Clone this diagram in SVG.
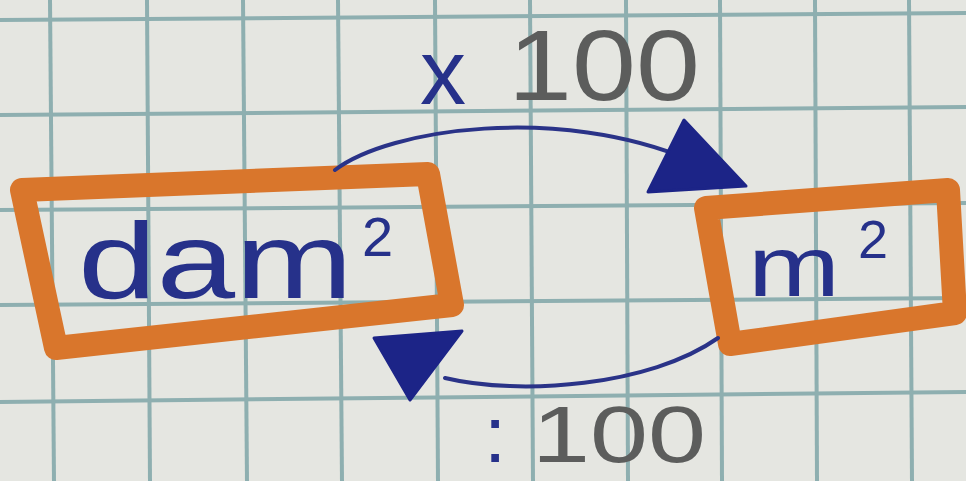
<svg xmlns="http://www.w3.org/2000/svg" width="966" height="481" viewBox="0 0 966 481">
<style>
.grid line{stroke:#8eafb0;stroke-width:4}
.box{fill:none;stroke:#d9762c;stroke-width:24;stroke-linejoin:round;stroke-linecap:round}
.blue{fill:#26318a;font-family:"Liberation Sans",Arial,sans-serif}
.gray{fill:#5c5d5c;font-family:"Liberation Sans",Arial,sans-serif}
.conn path{fill:none;stroke:#2a3388;stroke-width:4;stroke-linecap:round}
.conn polygon{fill:#1c2487;stroke:#1c2487;stroke-width:3;stroke-linejoin:round}
</style>
<rect width="966" height="481" fill="#e5e6e1"/>
<g class="grid">
<line x1="0" y1="20" x2="966" y2="13"/>
<line x1="0" y1="115" x2="966" y2="107"/>
<line x1="0" y1="210" x2="966" y2="203"/>
<line x1="0" y1="305" x2="966" y2="298"/>
<line x1="0" y1="402" x2="966" y2="392"/>
<line x1="50" y1="0" x2="54" y2="481"/>
<line x1="147" y1="0" x2="150" y2="481"/>
<line x1="243" y1="0" x2="247" y2="481"/>
<line x1="338" y1="0" x2="342" y2="481"/>
<line x1="435" y1="0" x2="438" y2="481"/>
<line x1="530" y1="0" x2="533" y2="481"/>
<line x1="626" y1="0" x2="628" y2="481"/>
<line x1="720" y1="0" x2="722" y2="481"/>
<line x1="815" y1="0" x2="817" y2="481"/>
<line x1="909" y1="0" x2="912" y2="481"/>
</g>
<g id="node-dam2">
<polygon class="box" points="22,190 428,174 452,305 56,348"/>
<text class="blue" x="78" y="298" font-size="108" textLength="275" lengthAdjust="spacingAndGlyphs">dam</text>
<text class="blue" x="362" y="256" font-size="56">2</text>
</g>
<g id="node-m2">
<polygon class="box" points="706,208 948,190 955,313 730,344"/>
<text class="blue" x="748" y="296" font-size="86" textLength="92" lengthAdjust="spacingAndGlyphs">m</text>
<text class="blue" x="858" y="258" font-size="54">2</text>
</g>
<g class="conn">
<path d="M335,170 C390,128 560,105 690,160"/>
<polygon points="684,120 648,192 746,186"/>
<path d="M718,338 C650,386 520,396 445,378"/>
<polygon points="374,338 462,331 410,400"/>
</g>
<g id="label-times">
<text class="blue" x="420" y="104" font-size="92">x</text>
<text class="gray" x="508" y="100" font-size="100" textLength="192" lengthAdjust="spacingAndGlyphs">100</text>
</g>
<g id="label-div">
<text class="blue" x="484" y="462" font-size="80">:</text>
<text class="gray" x="532" y="462" font-size="80" textLength="174" lengthAdjust="spacingAndGlyphs">100</text>
</g>
</svg>
